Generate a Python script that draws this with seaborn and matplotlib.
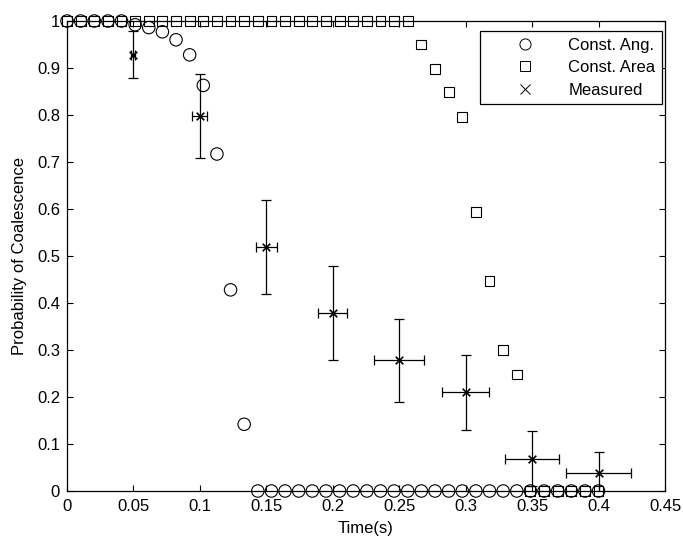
import numpy as np
import pandas as pd
import matplotlib
matplotlib.use("Agg")
import matplotlib.pyplot as plt
from matplotlib.lines import Line2D
import seaborn as sns

# model time grid (40 samples from 0 to 0.4 s)
model_time = np.linspace(0, 0.4, 40)

const_ang = [1.0, 1.0, 1.0, 1.0, 1.0, 0.992, 0.986, 0.977, 0.960, 0.928,
             0.863, 0.717, 0.428, 0.142] + [0.0] * 26

const_area = [1.0] * 26 + [0.950, 0.897, 0.849, 0.796, 0.594, 0.447, 0.300, 0.248] + [0.0] * 6

# measured probabilities with error bars
meas_time = [0.05, 0.10, 0.15, 0.20, 0.25, 0.30, 0.35, 0.40]
meas_prob = [0.928, 0.798, 0.519, 0.379, 0.278, 0.210, 0.069, 0.039]
meas_yerr = [0.050, 0.090, 0.100, 0.100, 0.088, 0.080, 0.058, 0.045]
meas_xerr = [0.0015, 0.0056, 0.008, 0.0109, 0.0187, 0.0175, 0.0206, 0.0245]

x_ticks = [0, 0.05, 0.1, 0.15, 0.2, 0.25, 0.3, 0.35, 0.4, 0.45]
x_tick_labels = ["0", "0.05", "0.1", "0.15", "0.2", "0.25", "0.3", "0.35", "0.4", "0.45"]
y_ticks = [0, 0.1, 0.2, 0.3, 0.4, 0.5, 0.6, 0.7, 0.8, 0.9, 1.0]
y_tick_labels = ["0", "0.1", "0.2", "0.3", "0.4", "0.5", "0.6", "0.7", "0.8", "0.9", "1"]

sns.set_theme(style="ticks")
plt.rcParams["font.family"] = ["Liberation Sans", "DejaVu Sans"]
plt.rcParams["text.color"] = "black"
plt.rcParams["axes.labelcolor"] = "black"

model_df = pd.DataFrame({"t": model_time, "ang": const_ang, "area": const_area})
meas_df = pd.DataFrame({"t": meas_time, "p": meas_prob})

fig = plt.figure(figsize=(6.83, 5.37), dpi=100)
ax = fig.add_axes([67 / 683, 1 - 491 / 537, (665 - 67) / 683, (491 - 21) / 537])

# error bars first so markers sit on top
ax.errorbar(meas_time, meas_prob, yerr=meas_yerr, xerr=meas_xerr, fmt="none",
            ecolor="black", elinewidth=0.9, capsize=3.5, capthick=0.9, zorder=2)

sns.scatterplot(data=model_df, x="t", y="area", marker="s", s=50,
                facecolor="none", edgecolor="black", linewidth=0.8, ax=ax, zorder=3, clip_on=False)
sns.scatterplot(data=model_df, x="t", y="ang", marker="o", s=80,
                facecolor="none", edgecolor="black", linewidth=0.8, ax=ax, zorder=4, clip_on=False)
sns.scatterplot(data=meas_df, x="t", y="p", marker="x", s=30,
                color="black", linewidth=1.2, ax=ax, zorder=5)

ax.set_xlim(0, 0.45)
ax.set_ylim(0, 1)
ax.set_xticks(x_ticks)
ax.set_xticklabels(x_tick_labels)
ax.set_yticks(y_ticks)
ax.set_yticklabels(y_tick_labels)
ax.tick_params(direction="in", length=4, width=0.8, top=True, right=True,
               labelsize=12, colors="black")
ax.tick_params(axis="x", pad=6)
ax.tick_params(axis="y", pad=5)
for side in ax.spines.values():
    side.set_visible(True)
    side.set_color("black")
    side.set_linewidth(0.9)

ax.set_xlabel("Time(s)", fontsize=12, labelpad=5, color="black")
ax.set_ylabel("Probability of Coalescence", fontsize=12, labelpad=7, color="black")

handles = [
    Line2D([], [], linestyle="none", marker="o", markersize=8, markerfacecolor="none",
           markeredgecolor="black", markeredgewidth=0.7),
    Line2D([], [], linestyle="none", marker="s", markersize=6.5, markerfacecolor="none",
           markeredgecolor="black", markeredgewidth=0.7),
    Line2D([], [], linestyle="none", marker="x", markersize=6.5, color="black",
           markeredgewidth=0.7),
]
leg = ax.legend(handles, ["Const. Ang.", "Const. Area", "Measured"], loc="upper right",
                bbox_to_anchor=(0.995, 0.979), borderaxespad=0,
                fontsize=12, frameon=True, fancybox=False, edgecolor="black",
                handlelength=4.6, handletextpad=0.3, borderpad=0.4, labelspacing=0.45)
leg.get_frame().set_linewidth(0.9)
leg.get_frame().set_alpha(1)
for txt in leg.get_texts():
    txt.set_color("black")

fig.savefig("out.png", dpi=100)
